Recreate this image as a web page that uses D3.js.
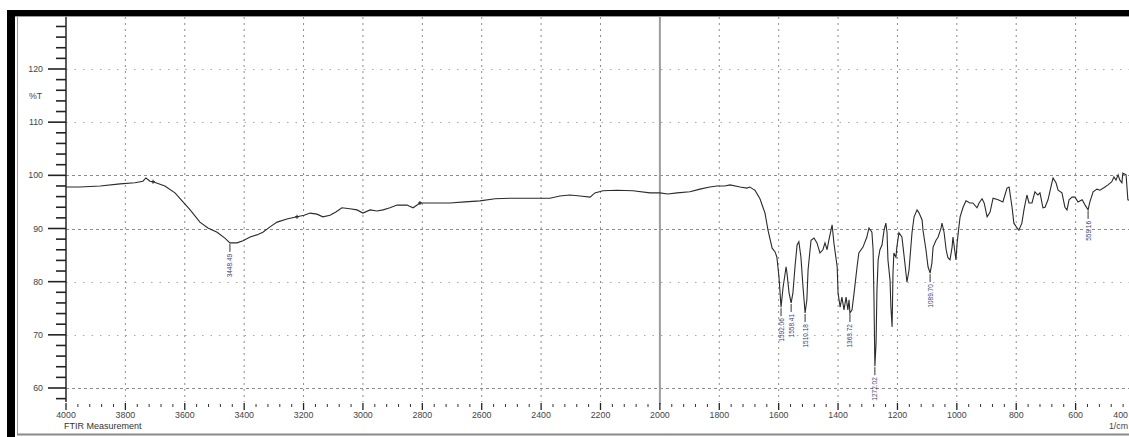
<!DOCTYPE html>
<html>
<head>
<meta charset="utf-8">
<script src="https://cdn.jsdelivr.net/npm/d3@7"></script>
<style>
  body { margin: 0; background: #fff; }
  svg { display: block; font-family: "Liberation Sans", Arial, sans-serif; }
</style>
</head>
<body>
<div id="chart"></div>
<script>
// spectrum (1/cm , %T)
const wavenumbers = [4000, 3953, 3885, 3818, 3768, 3741, 3731, 3717, 3707, 3667, 3633, 3606, 3582, 3549, 3522, 3491, 3465, 3448, 3424, 3404,
  3380, 3357, 3337, 3313, 3289, 3256, 3222, 3198, 3178, 3155, 3135, 3111, 3091, 3071, 3044, 3020, 3000, 2976, 2953, 2932,
  2909, 2885, 2852, 2831, 2808, 2758, 2707, 2656, 2606, 2555, 2505, 2437, 2370, 2337, 2303, 2269, 2235, 2219, 2192, 2144,
  2091, 2033, 2000, 1973, 1942, 1899, 1865, 1832, 1808, 1781, 1764, 1730, 1707, 1697, 1686, 1680, 1663, 1646, 1636, 1622,
  1612, 1606, 1599, 1592, 1585, 1575, 1572, 1565, 1558, 1552, 1545, 1538, 1532, 1525, 1518, 1511, 1505, 1501, 1491, 1481,
  1471, 1461, 1451, 1444, 1437, 1431, 1420, 1414, 1403, 1400, 1393, 1387, 1380, 1373, 1367, 1363, 1360, 1353, 1346, 1336,
  1330, 1316, 1303, 1296, 1286, 1282, 1279, 1276, 1272, 1269, 1265, 1259, 1252, 1245, 1239, 1235, 1232, 1225, 1222, 1218,
  1215, 1212, 1205, 1202, 1195, 1185, 1181, 1175, 1168, 1161, 1151, 1144, 1134, 1127, 1117, 1114, 1104, 1097, 1090, 1084,
  1080, 1070, 1063, 1053, 1050, 1043, 1036, 1030, 1023, 1016, 1013, 1006, 1003, 999, 993, 989, 979, 969, 956, 946,
  932, 925, 915, 908, 898, 888, 878, 861, 845, 831, 824, 814, 808, 797, 791, 781, 774, 764, 757, 747,
  737, 727, 720, 710, 703, 693, 680, 676, 666, 659, 646, 636, 629, 622, 612, 602, 592, 578, 568, 558,
  552, 541, 528, 518, 501, 491, 478, 471, 464, 457, 451, 444, 441, 430, 424, 400];
const transmittance = [97.8, 97.8, 98.0, 98.4, 98.6, 98.9, 99.5, 98.9, 98.8, 98.0, 96.7, 95.0, 93.5, 91.2, 90.1, 89.3, 88.2, 87.3, 87.3, 87.7,
  88.4, 88.8, 89.3, 90.3, 91.2, 91.8, 92.2, 92.5, 92.9, 92.7, 92.2, 92.5, 93.1, 93.9, 93.7, 93.5, 92.9, 93.5, 93.3, 93.5,
  93.9, 94.4, 94.4, 93.9, 94.8, 94.8, 94.8, 95.0, 95.2, 95.6, 95.7, 95.7, 95.7, 96.1, 96.3, 96.1, 95.9, 96.7, 97.1, 97.2,
  97.1, 96.7, 96.7, 96.5, 96.7, 96.9, 97.4, 97.8, 98.0, 98.0, 98.2, 97.8, 97.6, 97.8, 97.4, 97.2, 95.6, 92.9, 89.7, 86.3,
  85.6, 84.6, 80.9, 75.2, 79.0, 82.8, 81.6, 77.9, 76.0, 77.9, 82.8, 86.9, 87.5, 84.6, 79.0, 74.1, 76.6, 82.2, 87.8, 88.2,
  87.3, 85.4, 86.0, 87.3, 86.0, 87.8, 90.7, 87.3, 82.8, 77.9, 75.2, 77.1, 74.7, 77.1, 74.7, 76.6, 74.1, 74.7, 77.9, 82.8,
  85.4, 86.5, 88.4, 90.1, 89.3, 86.0, 76.6, 64.1, 68.5, 78.4, 84.1, 86.0, 86.9, 89.7, 91.0, 89.2, 84.1, 80.3, 75.2, 71.5,
  81.6, 85.4, 84.6, 86.5, 89.2, 88.4, 86.5, 83.5, 79.9, 82.2, 89.2, 92.2, 93.5, 92.9, 91.6, 89.7, 86.0, 82.8, 81.6, 83.5,
  86.5, 87.8, 88.4, 90.1, 91.0, 89.3, 86.0, 84.5, 84.1, 86.5, 88.4, 85.4, 84.1, 87.3, 90.3, 92.2, 94.0, 95.2, 94.8, 94.8,
  93.9, 94.8, 95.6, 94.8, 92.2, 93.1, 95.7, 95.4, 95.0, 97.6, 97.8, 94.0, 91.0, 90.1, 89.7, 91.0, 93.5, 96.3, 94.8, 94.8,
  96.9, 96.3, 96.7, 93.9, 94.0, 95.4, 98.6, 99.5, 98.6, 97.2, 96.7, 94.0, 93.5, 95.4, 95.9, 95.9, 95.0, 95.4, 94.4, 93.5,
  95.0, 96.9, 97.4, 97.2, 97.8, 98.2, 98.8, 99.7, 99.1, 100.1, 99.1, 98.6, 100.4, 100.1, 95.4, 95.0];

// picked peaks
const peakWavenumbers = [3448, 1592, 1558, 1511, 1360, 1276, 1090, 558];
const peakLabels = ["3448.49", "1592.06", "1558.41", "1510.18", "1363.72", "1272.02", "1089.70", "559.16"];
// little "+" marks drawn on the trace
const markWavenumbers = [3707, 3222, 2808];

const xMajorTicks = d3.range(4000, 399, -200);
const xMinorTicks = d3.range(4000, 399, -40);
const yMajorTicks = [60, 70, 80, 90, 100, 110, 120];
const yMinorTicks = d3.range(58, 129, 2);
const denseGridRows = [60, 90, 100];

const width = 1129, height = 437;
const plot = {left: 66, right: 1135, top: 17, bottom: 402};

const svg = d3.select('#chart').append('svg')
  .attr('width', width)
  .attr('height', height);

const x = d3.scaleLinear().domain([4000, 400]).range([plot.left, plot.right]);
const y = d3.scaleLinear().domain([120, 60]).range([69, 388]);

const data = wavenumbers.map((w, i) => ({wn: w, t: transmittance[i]}));

// window frame
svg.append('rect').attr('x', 7).attr('y', 10).attr('width', width - 7).attr('height', 6).attr('fill', '#000');
svg.append('rect').attr('x', 7).attr('y', 10).attr('width', 8).attr('height', height - 10).attr('fill', '#000');
svg.append('line').attr('x1', 15).attr('x2', width).attr('y1', 16.5).attr('y2', 16.5).attr('stroke', '#9a9a9a');
svg.append('line').attr('x1', 17.5).attr('x2', 17.5).attr('y1', 16).attr('y2', 434).attr('stroke', '#9a9a9a');
svg.append('line').attr('x1', 17).attr('x2', width).attr('y1', 434.5).attr('y2', 434.5)
  .attr('stroke', '#8a8a8a').attr('stroke-width', 2);

// grid
svg.selectAll('.vgrid')
  .data(xMajorTicks.filter(d => d !== 4000 && d !== 2000 && d !== 400))
  .join('line')
  .attr('class', 'vgrid')
  .attr('x1', d => x(d)).attr('x2', d => x(d))
  .attr('y1', plot.top).attr('y2', plot.bottom)
  .attr('stroke', '#8c8c8c')
  .attr('stroke-dasharray', '2,4');

svg.selectAll('.hgrid')
  .data(yMajorTicks)
  .join('line')
  .attr('class', 'hgrid')
  .attr('x1', plot.left).attr('x2', width)
  .attr('y1', d => Math.round(y(d)) + 0.5).attr('y2', d => Math.round(y(d)) + 0.5)
  .attr('stroke', d => denseGridRows.includes(d) ? '#8c8c8c' : '#a8a8a8')
  .attr('stroke-dasharray', d => denseGridRows.includes(d) ? '3,3' : '1.5,7');

// the solid line at 2000
svg.append('line')
  .attr('x1', x(2000)).attr('x2', x(2000))
  .attr('y1', plot.top).attr('y2', plot.bottom + 2)
  .attr('stroke', '#9c9c9c').attr('stroke-width', 2);

// y axis
svg.append('line')
  .attr('x1', plot.left).attr('x2', plot.left)
  .attr('y1', plot.top).attr('y2', plot.bottom)
  .attr('stroke', '#333').attr('stroke-width', 1.6);

svg.selectAll('.ytick')
  .data(yMinorTicks)
  .join('line')
  .attr('class', 'ytick')
  .attr('x1', d => d % 10 === 0 ? plot.left - 18 : plot.left - 10)
  .attr('x2', plot.left)
  .attr('y1', d => y(d)).attr('y2', d => y(d))
  .attr('stroke', '#222').attr('stroke-width', 1.6);

svg.selectAll('.ylabel')
  .data(yMajorTicks)
  .join('text')
  .attr('class', 'ylabel')
  .attr('x', 43)
  .attr('y', d => y(d) + 3)
  .attr('text-anchor', 'end')
  .attr('fill', '#444')
  .style('font-size', '8.8px')
  .text(d => d);

svg.append('text')
  .attr('x', 29).attr('y', 99)
  .attr('fill', '#444')
  .style('font-size', '8.8px')
  .text('%T');

// x axis (ticks only)
svg.selectAll('.xminor')
  .data(xMinorTicks.filter(d => d % 200 !== 0))
  .join('line')
  .attr('class', 'xminor')
  .attr('x1', d => x(d)).attr('x2', d => x(d))
  .attr('y1', 404).attr('y2', 407)
  .attr('stroke', '#333');

svg.selectAll('.xmajor')
  .data(xMajorTicks)
  .join('line')
  .attr('class', 'xmajor')
  .attr('x1', d => x(d)).attr('x2', d => x(d))
  .attr('y1', 403).attr('y2', 410)
  .attr('stroke', '#222').attr('stroke-width', 1.3);

// last label sits at the window edge, so keep it inside
svg.selectAll('.xlabel')
  .data(xMajorTicks)
  .join('text')
  .attr('class', 'xlabel')
  .attr('x', d => d === 400 ? width - 1 : x(d))
  .attr('y', 417.5)
  .attr('text-anchor', d => d === 400 ? 'end' : 'middle')
  .attr('fill', '#444')
  .style('font-size', '8.8px')
  .text(d => d);

svg.append('text')
  .attr('x', 64).attr('y', 428.5)
  .attr('fill', '#333')
  .style('font-size', '9px')
  .text('FTIR Measurement');

svg.append('text')
  .attr('x', width - 1).attr('y', 429)
  .attr('text-anchor', 'end')
  .attr('fill', '#444')
  .style('font-size', '8.8px')
  .text('1/cm');

// spectrum
const line = d3.line().x(d => x(d.wn)).y(d => y(d.t));
svg.append('path')
  .datum(data)
  .attr('d', line)
  .attr('fill', 'none')
  .attr('stroke', '#2b2b2b')
  .attr('stroke-width', 1.1);

const nearest = w => data.reduce((a, b) => Math.abs(b.wn - w) < Math.abs(a.wn - w) ? b : a);

svg.selectAll('.mark')
  .data(markWavenumbers.map(nearest))
  .join('path')
  .attr('class', 'mark')
  .attr('d', d => `M${x(d.wn) - 2},${y(d.t)}h4M${x(d.wn)},${y(d.t) - 2}v4`)
  .attr('stroke', '#222');

// peak labels
let peaks = peakWavenumbers.map((w, i) => ({p: nearest(w), label: peakLabels[i]}));
let pg = svg.selectAll('.peak')
  .data(peaks)
  .join('g')
  .attr('class', 'peak')
  .attr('transform', d => `translate(${x(d.p.wn)},${y(d.p.t)})`);
pg.append('line')
  .attr('y1', 1).attr('y2', 9)
  .attr('stroke', '#333');
pg.append('text')
  .attr('transform', 'translate(2.5,11) rotate(-90)')
  .attr('text-anchor', 'end')
  .attr('fill', '#3b3b78')
  .style('font-size', '6.5px')
  .text(d => d.label);
</script>
</body>
</html>
